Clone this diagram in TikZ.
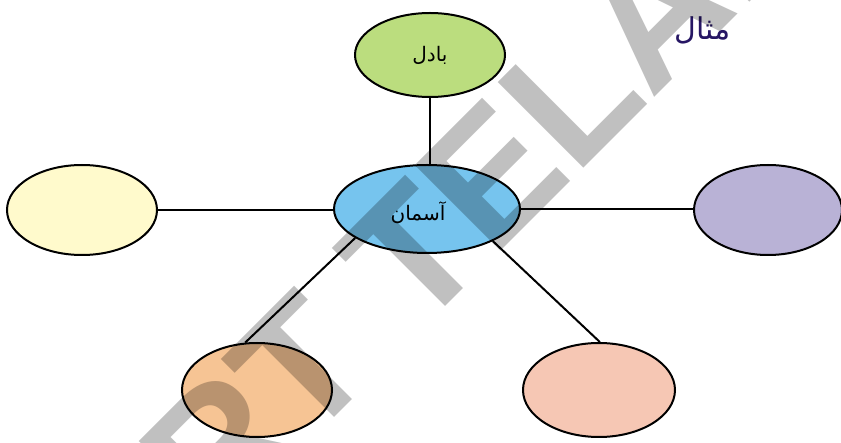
\documentclass[tikz,border=0pt]{standalone}
\usepackage{fontspec}
\usetikzlibrary{shapes.geometric}
\TeXXeTstate=1
\newfontfamily\urdu[Script=Arabic]{DejaVu Sans}
\newfontfamily\wmfont{Liberation Sans}
\definecolor{cgreen}{RGB}{187,221,126}
\definecolor{cblue}{RGB}{118,196,238}
\definecolor{cyellow}{RGB}{255,250,204}
\definecolor{cpurple}{RGB}{185,178,214}
\definecolor{corange}{RGB}{246,196,148}
\definecolor{cpink}{RGB}{246,199,180}
\definecolor{ctitle}{RGB}{38,22,100}
\definecolor{cwm}{RGB}{192,192,192}
\begin{document}
\begin{tikzpicture}[x=1pt,y=-1pt,
  bubble/.style={ellipse, draw=black, line width=2pt, inner sep=0pt},
  link/.style={draw=black, line width=2pt},
  lbl/.style={font=\urdu\fontsize{20}{22}\selectfont, text=black}]
\fill[white] (0,0) rectangle (841,443);
\useasboundingbox (0,0) rectangle (841,443);
\node[bubble, fill=cgreen, minimum width=150pt, minimum height=84pt] (top) at (430,55) {};
\node[bubble, fill=cblue, minimum width=186pt, minimum height=88pt] (mid) at (427,209) {};
\node[bubble, fill=cyellow, minimum width=150pt, minimum height=90pt] (left) at (82,210) {};
\node[bubble, fill=cpurple, minimum width=148pt, minimum height=90pt] (right) at (768,210) {};
\node[bubble, fill=corange, minimum width=150pt, minimum height=94pt] (bl) at (257,390) {};
\node[bubble, fill=cpink, minimum width=152pt, minimum height=94pt] (br) at (599,390) {};
\node[lbl] (tlbl) at (430,55) {\beginR بادل\endR};
\node[lbl] (mlbl) at (418,213) {\beginR آسمان\endR};
\node[font=\urdu\fontsize{30}{32}\selectfont, text=ctitle] (title) at (703,30) {\beginR مثال\endR};
\draw[link] (top.south) -- (top.south |- mid.north);
\draw[link] (left.east) -- (left.east -| mid.west);
\draw[link] (mid.east) -- (mid.east -| right.west);
\draw[link] (mid.202) -- (bl.104);
\draw[link] (mid.334) -- (br.89);
\begin{scope}[blend mode=multiply]
\clip (0,0) rectangle (841,443);
\node[rotate=45, anchor=base west, inner sep=0pt, text=cwm,
  font=\wmfont\bfseries\fontsize{176}{176}\selectfont] (wm) at (-40,792) {SCERT TELANGANA};
\end{scope}
\end{tikzpicture}
\end{document}
